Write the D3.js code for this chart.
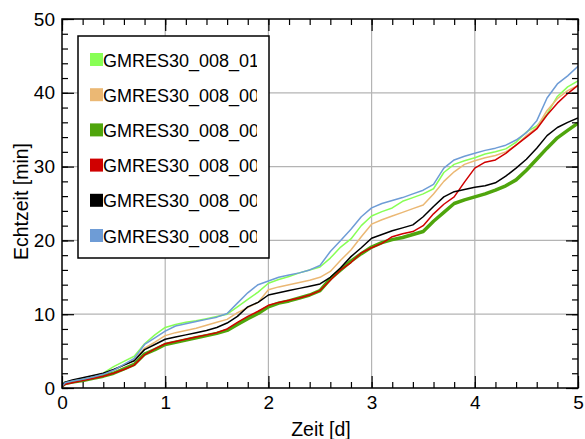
<!DOCTYPE html>
<html>
<head>
<meta charset="utf-8">
<script src="https://cdn.jsdelivr.net/npm/d3@7"></script>
<style>
  body { margin: 0; background: #fff; }
  text { font-family: "Liberation Sans", Arial, sans-serif; }
</style>
</head>
<body>
<div id="chart"></div>
<script>
// x values (days)
const zeit = [0, 0.03, 0.1, 0.2, 0.3, 0.4, 0.5, 0.6, 0.7, 0.8, 0.9,
  1.0, 1.1, 1.2, 1.3, 1.4, 1.5, 1.6, 1.7, 1.8, 1.9,
  2.0, 2.1, 2.2, 2.3, 2.4, 2.5, 2.6, 2.7, 2.8, 2.9,
  3.0, 3.1, 3.2, 3.3, 3.4, 3.5, 3.6, 3.7, 3.8, 3.9,
  4.0, 4.1, 4.2, 4.3, 4.4, 4.5, 4.6, 4.7, 4.8, 4.9, 5.0];

// Echtzeit [min] per run
const run010 = [0.2, 0.8, 1.0, 1.3, 1.6, 2.0, 2.9, 3.6, 4.3, 6.0, 7.2,
  8.2, 8.6, 8.9, 9.1, 9.4, 9.7, 10.0, 11.0, 12.0, 13.0,
  14.2, 14.7, 15.1, 15.6, 16.0, 16.4, 17.6, 19.1, 20.2, 22.0,
  23.3, 23.9, 24.4, 25.3, 25.8, 26.3, 27.0, 29.2, 30.3, 30.8,
  31.2, 31.7, 32.0, 32.4, 33.3, 34.7, 35.5, 37.1, 39.5, 40.8, 41.6];
const run009 = [0.2, 0.6, 0.9, 1.2, 1.5, 1.9, 2.4, 3.1, 3.8, 5.4, 6.2,
  7.1, 7.5, 7.8, 8.1, 8.5, 8.9, 9.3, 10.2, 10.9, 11.6,
  13.3, 13.7, 14.0, 14.3, 14.6, 15.0, 15.8, 17.3, 18.7, 20.5,
  22.2, 22.8, 23.3, 23.8, 24.3, 24.8, 26.3, 28.0, 29.3, 30.3,
  30.8, 31.2, 31.5, 32.0, 32.9, 34.2, 35.3, 37.6, 39.2, 40.3, 41.0];
const run008 = [0.3, 0.6, 0.8, 1.0, 1.3, 1.6, 2.0, 2.6, 3.2, 4.6, 5.2,
  5.9, 6.2, 6.5, 6.8, 7.1, 7.4, 7.8, 8.6, 9.4, 10.1,
  11.0, 11.5, 11.8, 12.2, 12.6, 13.2, 14.8, 16.0, 17.2, 18.2,
  19.1, 19.7, 20.1, 20.4, 20.8, 21.2, 22.6, 23.8, 25.0, 25.5,
  25.9, 26.3, 26.8, 27.4, 28.2, 29.5, 31.0, 32.5, 33.9, 34.9, 35.9];
const run007 = [0.2, 0.5, 0.7, 1.0, 1.3, 1.6, 2.0, 2.5, 3.1, 4.5, 5.3,
  6.0, 6.3, 6.6, 6.9, 7.2, 7.5, 8.0, 8.9, 9.7, 10.4,
  11.2, 11.6, 11.9, 12.2, 12.6, 13.2, 14.6, 16.0, 17.0, 18.3,
  19.0, 19.6, 20.5, 20.9, 21.2, 22.0, 23.6, 24.9, 25.9, 27.9,
  29.8, 30.6, 30.9, 31.8, 32.9, 34.0, 35.1, 37.0, 38.6, 39.9, 41.0];
const run006 = [0.3, 0.8, 1.1, 1.4, 1.7, 2.0, 2.5, 3.1, 3.7, 5.2, 5.9,
  6.6, 6.9, 7.2, 7.5, 7.8, 8.2, 8.8, 9.7, 11.0, 11.6,
  12.6, 12.9, 13.2, 13.5, 13.8, 14.1, 15.0, 16.3, 17.8, 19.0,
  20.3, 20.8, 21.3, 21.7, 22.1, 23.2, 24.6, 25.9, 26.6, 26.9,
  27.2, 27.4, 27.8, 28.7, 29.8, 31.0, 32.5, 34.2, 35.3, 36.0, 36.6];
const run005 = [0.2, 0.7, 0.95, 1.2, 1.5, 1.85, 2.4, 3.2, 4.0, 5.9, 6.8,
  7.7, 8.4, 8.7, 9.0, 9.3, 9.6, 10.1, 11.5, 12.9, 14.0,
  14.5, 15.0, 15.3, 15.6, 16.0, 16.6, 18.5, 20.0, 21.5, 23.2,
  24.4, 25.0, 25.4, 25.8, 26.3, 26.8, 27.6, 29.8, 30.9, 31.4,
  31.8, 32.2, 32.5, 32.9, 33.6, 34.6, 36.2, 39.3, 41.2, 42.3, 43.6];

const seriesNames = ["GMRES30_008_010", "GMRES30_008_009", "GMRES30_008_008",
  "GMRES30_008_007", "GMRES30_008_006", "GMRES30_008_005"];
const seriesValues = [run010, run009, run008, run007, run006, run005];
const seriesColors = ["#88ff55", "#ebb874", "#4fa50c", "#d00000", "#000000", "#6e9cd6"];
const seriesWidths = [1.5, 1.5, 3.5, 1.5, 1.5, 1.5];

const xTicks = [0, 1, 2, 3, 4, 5];
const yTicks = [0, 10, 20, 30, 40, 50];

const width = 585, height = 439;
const margin = { top: 19, right: 7, bottom: 51, left: 62 };
const innerW = width - margin.left - margin.right;
const innerH = height - margin.top - margin.bottom;

const svg = d3.select("#chart").append("svg")
  .attr("width", width).attr("height", height);

const g = svg.append("g").attr("transform", `translate(${margin.left},${margin.top})`);

const x = d3.scaleLinear().domain([0, 5]).range([0, innerW]);
const y = d3.scaleLinear().domain([0, 50]).range([innerH, 0]);

// grid
g.append("g").selectAll("line").data(xTicks.slice(1, -1)).join("line")
  .attr("x1", d => x(d)).attr("x2", d => x(d)).attr("y1", 0).attr("y2", innerH)
  .attr("stroke", "#b4b4b4").attr("stroke-width", 1.2);
g.append("g").selectAll("line").data(yTicks.slice(1, -1)).join("line")
  .attr("y1", d => y(d)).attr("y2", d => y(d)).attr("x1", 0).attr("x2", innerW)
  .attr("stroke", "#b4b4b4").attr("stroke-width", 1.2);

// lines
g.append("clipPath").attr("id", "plotclip").append("rect")
  .attr("width", innerW).attr("height", innerH);
const line = d3.line().x((d, i) => x(zeit[i])).y(d => y(d));
const lines = g.append("g").attr("clip-path", "url(#plotclip)");
seriesValues.forEach((vals, k) => {
  lines.append("path").datum(vals)
    .attr("d", line)
    .attr("fill", "none")
    .attr("stroke", seriesColors[k])
    .attr("stroke-width", seriesWidths[k])
    .attr("stroke-linejoin", "round");
});

// axes with inward ticks on all four sides
const xMinor = d3.range(0, 5.001, 0.2);
const yMinor = d3.range(0, 50.001, 2);
function styleAxis(sel) {
  sel.select(".domain").remove();
  sel.selectAll("line").attr("stroke", "#000").attr("stroke-width", 1.2);
}
g.append("g").attr("transform", `translate(0,${innerH})`)
  .call(d3.axisBottom(x).tickValues(xMinor).tickSize(-6).tickFormat("")).call(styleAxis);
g.append("g").attr("transform", `translate(0,${innerH})`)
  .call(d3.axisBottom(x).tickValues(xTicks).tickSize(-12).tickPadding(8).tickFormat(d3.format("d")))
  .call(styleAxis)
  .selectAll("text").attr("font-size", 19).attr("fill", "#000");
g.append("g")
  .call(d3.axisTop(x).tickValues(xMinor).tickSize(-6).tickFormat("")).call(styleAxis);
g.append("g")
  .call(d3.axisTop(x).tickValues(xTicks).tickSize(-12).tickFormat("")).call(styleAxis);

g.append("g")
  .call(d3.axisLeft(y).tickValues(yMinor).tickSize(-6).tickFormat("")).call(styleAxis);
g.append("g")
  .call(d3.axisLeft(y).tickValues(yTicks).tickSize(-12).tickPadding(7).tickFormat(d3.format("d")))
  .call(styleAxis)
  .selectAll("text").attr("font-size", 19).attr("fill", "#000");
g.append("g").attr("transform", `translate(${innerW},0)`)
  .call(d3.axisRight(y).tickValues(yMinor).tickSize(-6).tickFormat("")).call(styleAxis);
g.append("g").attr("transform", `translate(${innerW},0)`)
  .call(d3.axisRight(y).tickValues(yTicks).tickSize(-12).tickFormat("")).call(styleAxis);

// frame
g.append("rect").attr("width", innerW).attr("height", innerH)
  .attr("fill", "none").attr("stroke", "#000").attr("stroke-width", 1.5);

// axis titles
svg.append("text")
  .attr("x", margin.left + innerW / 2 + 1).attr("y", 436)
  .attr("text-anchor", "middle").attr("font-size", 19.5)
  .text("Zeit [d]");
svg.append("text")
  .attr("transform", `translate(28,${margin.top + innerH / 2 - 2}) rotate(-90)`)
  .attr("text-anchor", "middle").attr("font-size", 19.5)
  .text("Echtzeit [min]");

// legend
const legend = svg.append("g").attr("transform", "translate(78,36)");
legend.append("rect").attr("width", 191).attr("height", 222)
  .attr("fill", "#fff").attr("stroke", "#000").attr("stroke-width", 1.5);
legend.append("clipPath").attr("id", "legclip").append("rect")
  .attr("x", 0).attr("y", 0).attr("width", 179).attr("height", 222);
const items = legend.append("g").attr("clip-path", "url(#legclip)");
seriesNames.forEach((name, k) => {
  const cy = 24 + k * 35.2;
  items.append("rect").attr("x", 12).attr("y", cy - 7).attr("width", 13).attr("height", 13)
    .attr("fill", seriesColors[k]);
  items.append("text").attr("x", 25).attr("y", cy + 6.5)
    .attr("font-size", 18).attr("fill", "#000").text(name);
});
</script>
</body>
</html>
